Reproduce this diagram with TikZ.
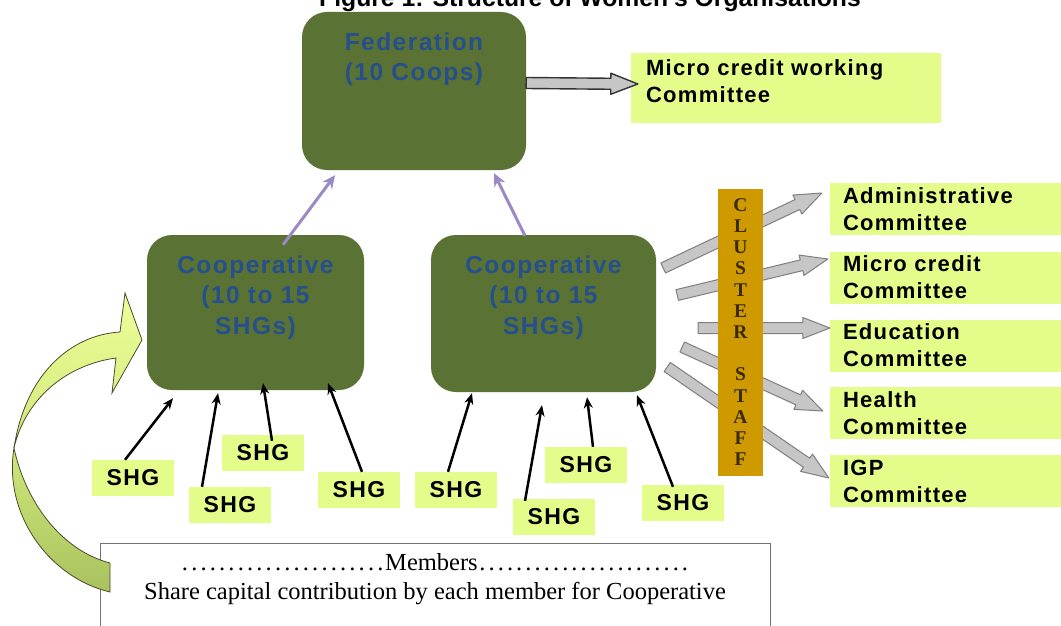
\documentclass[tikz,border=0pt]{standalone}
\usepackage{fontspec}
\setmainfont{Liberation Serif}
\newfontfamily\titlefont{Liberation Sans}
\newfontfamily\orgfont[LetterSpace=6]{Liberation Sans}
\usetikzlibrary{arrows.meta,calc}
\definecolor{orgGreen}{HTML}{5A7233}
\definecolor{orgBlue}{HTML}{264F8D}
\definecolor{paleGreen}{HTML}{E3FC8A}
\definecolor{staffGold}{HTML}{CF9A00}
\definecolor{staffInk}{HTML}{3A2A00}
\definecolor{arrowFill}{HTML}{C6C6C6}
\definecolor{arrowLine}{HTML}{7F7F7F}
\definecolor{fedPurple}{HTML}{9D89C5}
\definecolor{bendLight}{HTML}{EEFF99}
\definecolor{bendMid}{HTML}{CFE77A}
\definecolor{bendDark}{HTML}{A9C25E}

\newcommand{\dotrun}[1]{\hbox to #1{\xleaders\hbox to 9pt{\hss.\hss}\hfill}}
% grey block arrow from #2 to #3
\newcommand{\blockarrow}[3][]{%
  \filldraw[blockarr,#1] ($(#2)!5.5pt!-90:(#3)$) -- ($($(#3)!27pt!(#2)$)!5.5pt!-90:(#3)$)
    -- ($($(#3)!27pt!(#2)$)!10.5pt!-90:(#3)$) -- (#3) -- ($($(#3)!27pt!(#2)$)!10.5pt!90:(#3)$)
    -- ($($(#3)!27pt!(#2)$)!5.5pt!90:(#3)$) -- ($(#2)!5.5pt!90:(#3)$) -- cycle;}

\tikzset{
  orgbox/.style={fill=orgGreen, draw=none, rounded corners=25pt},
  orgtext/.style={anchor=north, inner sep=0pt, yshift=-20.5pt, align=center, text=orgBlue,
    font=\orgfont\bfseries\fontsize{24.5}{30.5}\selectfont},
  comm/.style={fill=paleGreen, draw=none, minimum width=231, minimum height=52, inner xsep=13pt,
    text width=205, align=left, font=\orgfont\bfseries\fontsize{22}{27}\selectfont},
  shg/.style={fill=paleGreen, draw=none, minimum width=82, minimum height=36, inner sep=0pt,
    font=\orgfont\bfseries\fontsize{23}{27}\selectfont},
  shgarrow/.style={line width=2.5pt, -{Stealth[length=11pt,width=9pt]}},
  fedarrow/.style={line width=3pt, fedPurple, -{Stealth[length=13pt,width=12pt]}},
  blockarr/.style={fill=arrowFill, draw=arrowLine, line width=1pt, line join=round},
  bendarrow/.style={draw=black!60!olive, line width=0.8pt},
  staffbar/.style={fill=staffGold, draw=none, minimum width=45, minimum height=287, inner sep=0pt,
    align=center, text=staffInk, font=\bfseries\fontsize{19.5}{21.2}\selectfont},
}

\begin{document}
\begin{tikzpicture}[x=1pt, y=-1pt]
  \path[use as bounding box, fill=white] (0,0) rectangle (1061,626);
  \node[anchor=base, font=\titlefont\bfseries\fontsize{24.7}{30}\selectfont] (title) at (590,7)
    {Figure 1: Structure of Women's Organisations};

  \node[orgbox, minimum width=224, minimum height=158,
    label={[orgtext]north:{Federation\\(10 Coops)}}] (fed) at (414,91) {};
  \node[orgbox, minimum width=217, minimum height=155,
    label={[orgtext]north:{Cooperative\\(10 to 15\\SHGs)}}] (coopL) at (255.5,312.5) {};
  \node[orgbox, minimum width=225, minimum height=157,
    label={[orgtext]north:{Cooperative\\(10 to 15\\SHGs)}}] (coopR) at (543.5,313.5) {};

  \node[comm, minimum width=310, minimum height=70,
    label={[comm, fill=none, anchor=north west, minimum height=0, text width=280, inner sep=0pt,
      xshift=15pt, yshift=-7pt]north west:{Micro credit working\\Committee}}] (mcw) at (786,88) {};
  \node[comm] (adm) at (945.5,209) {Administrative\\Committee};
  \node[comm] (mcc) at (945.5,277.5) {Micro credit\\Committee};
  \node[comm] (edu) at (945.5,345.5) {Education\\Committee};
  \node[comm] (hea) at (945.5,413) {Health\\Committee};
  \node[comm] (igp) at (945.5,481) {IGP\\Committee};

  \node[shg] (shg1) at (133,478) {SHG};
  \node[shg] (shg2) at (230,505) {SHG};
  \node[shg] (shg3) at (263,453) {SHG};
  \node[shg] (shg4) at (359,490) {SHG};
  \node[shg] (shg5) at (456,490) {SHG};
  \node[shg] (shg6) at (554,517) {SHG};
  \node[shg] (shg7) at (586,465) {SHG};
  \node[shg] (shg8) at (683,503) {SHG};

  \node[draw=black!55, line width=1.2pt, anchor=north west, minimum width=670, minimum height=110]
    (members) at (100,543) {};
  \node[anchor=north, inner sep=0pt, align=center, font=\fontsize{24.5}{29}\selectfont]
    (memtxt) at (435,553)
    {\dotrun{205pt}Members\dotrun{212pt}\\Share capital contribution by each member for Cooperative};

  % curved arrow from members up to the cooperative
  \shadedraw[bendarrow, top color=bendMid, bottom color=bendDark]
    (14,448) .. controls (3,515) and (50,578) .. (110,592) -- (110,563)
    .. controls (60,550) and (25,500) .. (14,448) -- cycle;
  \shadedraw[bendarrow, top color=bendLight, bottom color=bendMid]
    (120,332) .. controls (70,335) and (25,375) .. (14,448)
    .. controls (25,400) and (65,365) .. (116,358) -- (112,393) -- (142,340) -- (125,293) -- cycle;

  \blockarrow[draw=black!80, line width=1.4pt]{$(fed.east)+(0pt,8pt)$}{$(mcw.west)+(7pt,4pt)$}
  \blockarrow{$(coopR.east)+(7pt,45.5pt)$}{$(adm.west)+(-8pt,16pt)$}
  \blockarrow{$(coopR.east)+(21pt,18.5pt)$}{$(mcc.west)+(-2pt,18.5pt)$}
  \blockarrow{$(coopR.east)+(42pt,-14.5pt)$}{$(edu.west)+(0pt,17.5pt)$}
  \blockarrow{$(coopR.east)+(26pt,-33.5pt)$}{$(hea.west)+(-7pt,2pt)$}
  \blockarrow{$(coopR.east)+(11pt,-53.5pt)$}{$(igp.west)+(-1pt,3pt)$}

  \draw[fedarrow] ([shift={(27.5pt,-10pt)}]coopL.north) -- ([shift={(-79pt,-5pt)}]fed.south);
  \draw[fedarrow] ([shift={(-18.5pt,-1pt)}]coopR.north) -- ([shift={(80pt,-3pt)}]fed.south);

  \draw[shgarrow] ([xshift=-8pt]shg1.north) -- ([shift={(-82.5pt,-8pt)}]coopL.south);
  \draw[shgarrow] ([xshift=-28pt]shg2.north) -- ([shift={(-37.5pt,-3pt)}]coopL.south);
  \draw[shgarrow] ([shift={(9pt,-6pt)}]shg3.north) -- ([shift={(7.5pt,7pt)}]coopL.south);
  \draw[shgarrow] ([xshift=3pt]shg4.north) -- ([shift={(72.5pt,7pt)}]coopL.south);
  \draw[shgarrow] ([xshift=-8pt]shg5.north) -- ([shift={(-71.5pt,-1pt)}]coopR.south);
  \draw[shgarrow] ([shift={(-29pt,-2pt)}]shg6.north) -- ([shift={(-1.5pt,-13pt)}]coopR.south);
  \draw[shgarrow] ([xshift=7pt]shg7.north) -- ([shift={(43.5pt,-5pt)}]coopR.south);
  \draw[shgarrow] ([shift={(-10pt,-2pt)}]shg8.north) -- ([shift={(93.5pt,-3pt)}]coopR.south);

  \node[staffbar] (staff) at (740.5,332) {C\\L\\U\\S\\T\\E\\R\\[21.2pt]S\\T\\A\\F\\F};
\end{tikzpicture}
\end{document}
